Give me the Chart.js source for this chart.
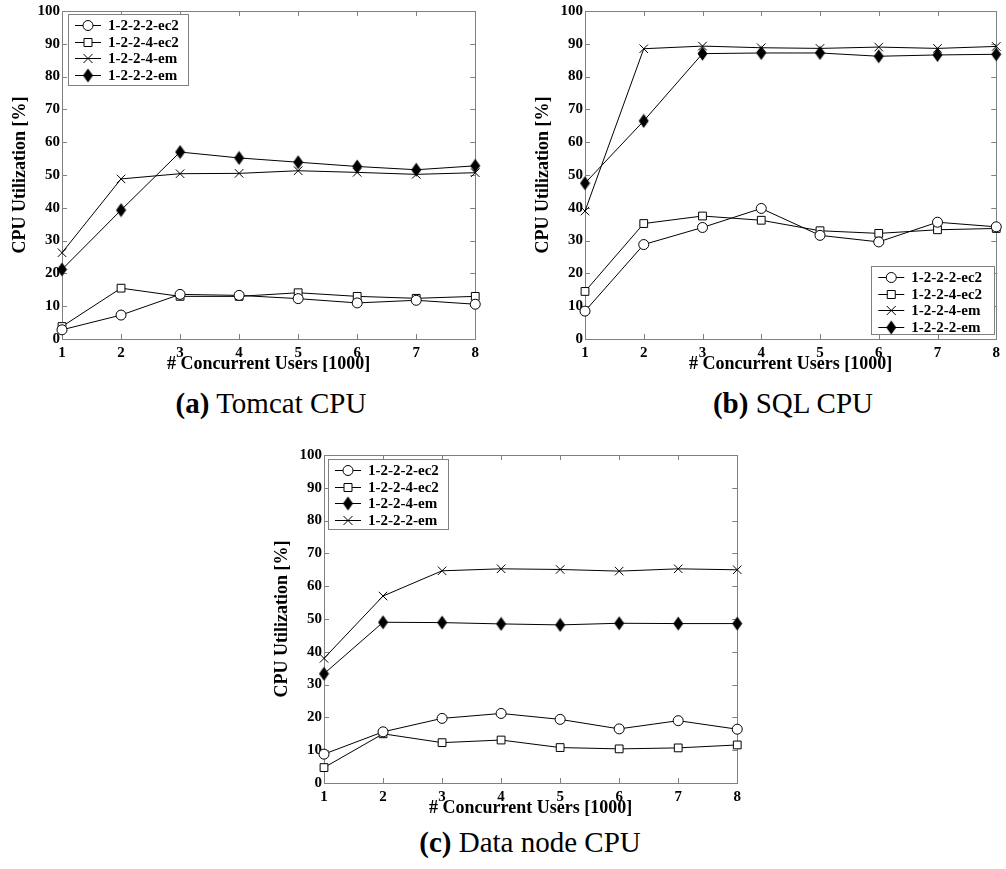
<!DOCTYPE html>
<html>
<head>
<meta charset="utf-8">
<script src="https://cdn.jsdelivr.net/npm/chart.js@4.4.0/dist/chart.umd.min.js"></script>
<style>
    html, body { margin: 0; background: #fff; }
    body { width: 1006px; height: 869px; overflow: hidden; position: relative; font-family: "Liberation Serif", "Times New Roman", serif; }
    canvas { position: absolute; }
    .cap { position: absolute; width: 400px; font-size: 29px; line-height: 1; text-align: center; color: #000; white-space: nowrap; }
</style>
</head>
<body>
<canvas id="tomcatChart" width="484" height="375" style="left:0;top:0"></canvas>
<canvas id="sqlChart" width="482" height="375" style="left:523px;top:0"></canvas>
<canvas id="dataChart" width="484" height="375" style="left:262px;top:444px"></canvas>
<div class="cap" style="left:71px;top:389px"><b>(a)</b> Tomcat CPU</div>
<div class="cap" style="left:593px;top:389px"><b>(b)</b> SQL CPU</div>
<div class="cap" style="left:330px;top:828px"><b>(c)</b> Data node CPU</div>
<script>
// x axis: concurrent users in thousands
const users = ['1', '2', '3', '4', '5', '6', '7', '8'];

// (a) Tomcat CPU
const tomcat2222ec2 = [2.8, 7.3, 13.6, 13.3, 12.3, 11.0, 11.8, 10.6];
const tomcat1224ec2 = [3.8, 15.5, 13.0, 13.0, 14.1, 13.0, 12.4, 13.0];
const tomcat1224em = [26.3, 48.8, 50.4, 50.5, 51.3, 50.8, 50.2, 50.7];
const tomcat1222em = [21.2, 39.3, 57.0, 55.2, 53.9, 52.6, 51.6, 52.8];

// (b) SQL CPU
const sql2222ec2 = [8.5, 28.8, 34.0, 39.8, 31.6, 29.6, 35.6, 34.2];
const sql1224ec2 = [14.5, 35.2, 37.5, 36.2, 33.0, 32.2, 33.3, 33.7];
const sql1224em = [39.0, 88.5, 89.3, 88.8, 88.6, 89.0, 88.6, 89.2];
const sql1222em = [47.5, 66.5, 87.0, 87.2, 87.2, 86.2, 86.6, 86.8];

// (c) Data node CPU
const data2222ec2 = [8.8, 15.6, 19.7, 21.2, 19.4, 16.5, 19.0, 16.4];
const data1224ec2 = [4.7, 15.0, 12.3, 13.1, 10.8, 10.4, 10.7, 11.6];
const data1224em = [33.3, 49.0, 48.9, 48.5, 48.2, 48.7, 48.6, 48.6];
const data1222em = [38.0, 57.0, 64.7, 65.3, 65.1, 64.6, 65.3, 65.0];

const yMin = 0;
const yMax = 100;
const yStep = 10;

const FONT = '"Liberation Serif", "Times New Roman", serif';
const FRAME = '#808080';

// filled diamond marker (a bit taller than wide, like the original)
const diamond = document.createElement('canvas');
diamond.width = 11;
diamond.height = 15;
(function() {
    const dc = diamond.getContext('2d');
    dc.fillStyle = '#000';
    dc.beginPath();
    dc.moveTo(5.5, 0.5);
    dc.lineTo(10.5, 7.5);
    dc.lineTo(5.5, 14.5);
    dc.lineTo(0.5, 7.5);
    dc.closePath();
    dc.fill();
})();

function series(label, data, marker) {
    const ds = {
        label: label,
        data: data,
        borderColor: '#000',
        borderWidth: 1,
        pointBorderColor: '#000',
        pointBorderWidth: 1,
        pointBackgroundColor: '#fff',
        fill: false,
        tension: 0,
        clip: false,
        marker: marker
    };
    if (marker === 'circle') { ds.pointStyle = 'circle'; ds.pointRadius = 5; }
    if (marker === 'square') { ds.pointStyle = 'rect'; ds.pointRadius = 5.5; }
    if (marker === 'cross') { ds.pointStyle = 'crossRot'; ds.pointRadius = 6; }
    if (marker === 'diamond') { ds.pointStyle = diamond; ds.pointRadius = 6; }
    return ds;
}

function drawMarker(ctx, marker, x, y) {
    ctx.save();
    ctx.strokeStyle = '#000';
    ctx.lineWidth = 1;
    ctx.beginPath();
    if (marker === 'circle') {
        ctx.arc(x, y, 5, 0, Math.PI * 2);
        ctx.fillStyle = '#fff';
        ctx.fill();
        ctx.stroke();
    } else if (marker === 'square') {
        ctx.rect(x - 4, y - 4, 8, 8);
        ctx.fillStyle = '#fff';
        ctx.fill();
        ctx.stroke();
    } else if (marker === 'cross') {
        ctx.moveTo(x - 4.5, y - 4.5); ctx.lineTo(x + 4.5, y + 4.5);
        ctx.moveTo(x + 4.5, y - 4.5); ctx.lineTo(x - 4.5, y + 4.5);
        ctx.stroke();
    } else if (marker === 'diamond') {
        ctx.drawImage(diamond, x - diamond.width / 2, y - diamond.height / 2);
    }
    ctx.restore();
}

// box around the plot with inward ticks on all four sides
const framePlugin = {
    id: 'frame',
    beforeDatasetsDraw(chart) {
        const { ctx, chartArea: a } = chart;
        const xs = chart.scales.x;
        const ys = chart.scales.y;
        ctx.save();
        ctx.strokeStyle = FRAME;
        ctx.lineWidth = 1;
        ctx.strokeRect(Math.round(a.left) + 0.5, Math.round(a.top) + 0.5,
            Math.round(a.right - a.left), Math.round(a.bottom - a.top));
        ctx.beginPath();
        xs.ticks.forEach((t, i) => {
            const px = Math.round(xs.getPixelForTick(i)) + 0.5;
            ctx.moveTo(px, a.top); ctx.lineTo(px, a.top + 5);
            ctx.moveTo(px, a.bottom); ctx.lineTo(px, a.bottom - 5);
        });
        ys.ticks.forEach((t, i) => {
            const py = Math.round(ys.getPixelForTick(i)) + 0.5;
            ctx.moveTo(a.left, py); ctx.lineTo(a.left + 5, py);
            ctx.moveTo(a.right, py); ctx.lineTo(a.right - 5, py);
        });
        ctx.stroke();
        ctx.restore();
    }
};

// legend box inside the plot, line + marker + bold label
const boxLegendPlugin = {
    id: 'boxLegend',
    afterDraw(chart, args, opts) {
        const { ctx, chartArea: a } = chart;
        const w = opts.width;
        const h = opts.height;
        const left = opts.corner === 'br' ? a.right - opts.dx - w : a.left + opts.dx;
        const top = opts.corner === 'br' ? a.bottom - opts.dy - h : a.top + opts.dy;
        ctx.save();
        ctx.fillStyle = '#fff';
        ctx.fillRect(left, top, w, h);
        ctx.strokeStyle = FRAME;
        ctx.lineWidth = 1;
        ctx.strokeRect(Math.round(left) + 0.5, Math.round(top) + 0.5, w, h);
        ctx.font = 'bold 15px ' + FONT;
        ctx.textBaseline = 'middle';
        ctx.fillStyle = '#000';
        chart.data.datasets.forEach((ds, i) => {
            const y = Math.round(top + 11 + i * 16.5) + 0.5;
            ctx.strokeStyle = '#000';
            ctx.beginPath();
            ctx.moveTo(left + 7, y);
            ctx.lineTo(left + 33, y);
            ctx.stroke();
            drawMarker(ctx, ds.marker, left + 20, y);
            ctx.fillText(ds.label, left + 40, y + 1);
        });
        ctx.restore();
    }
};

function createCpuChart(id, datasets, legendOpts) {
    const canvas = document.getElementById(id);
    new Chart(canvas, {
        type: 'line',
        data: { labels: users, datasets: datasets },
        options: {
            responsive: false,
            animation: false,
            events: [],
            layout: { padding: { left: 0, top: 11, right: canvas.width - 480, bottom: 0 } },
            plugins: {
                legend: { display: false },
                tooltip: { enabled: false },
                boxLegend: legendOpts
            },
            scales: {
                x: {
                    type: 'category',
                    offset: false,
                    grid: { display: false, drawTicks: false },
                    border: { display: false },
                    ticks: { color: '#000', font: { family: FONT, size: 15, weight: 'bold' }, padding: 5, autoSkip: false, maxRotation: 0 },
                    title: { display: true, text: '# Concurrent Users [1000]', color: '#000', font: { family: FONT, size: 18, weight: 'bold' }, padding: 0 },
                    afterFit: (scale) => { scale.height = 36; }
                },
                y: {
                    min: yMin,
                    max: yMax,
                    grid: { display: false, drawTicks: false },
                    border: { display: false },
                    ticks: { stepSize: yStep, color: '#000', font: { family: FONT, size: 15, weight: 'bold' }, padding: 2 },
                    title: { display: true, text: 'CPU Utilization [%]', color: '#000', font: { family: FONT, size: 18, weight: 'bold' }, padding: { top: 10, bottom: 0 } },
                    afterFit: (scale) => { scale.width = 62; }
                }
            }
        },
        plugins: [framePlugin, boxLegendPlugin]
    });
}

createCpuChart('tomcatChart', [
    series('1-2-2-2-ec2', tomcat2222ec2, 'circle'),
    series('1-2-2-4-ec2', tomcat1224ec2, 'square'),
    series('1-2-2-4-em', tomcat1224em, 'cross'),
    series('1-2-2-2-em', tomcat1222em, 'diamond')
], { corner: 'tl', dx: 6, dy: 3, width: 120, height: 71 });

createCpuChart('sqlChart', [
    series('1-2-2-2-ec2', sql2222ec2, 'circle'),
    series('1-2-2-4-ec2', sql1224ec2, 'square'),
    series('1-2-2-4-em', sql1224em, 'cross'),
    series('1-2-2-2-em', sql1222em, 'diamond')
], { corner: 'br', dx: 2, dy: 5, width: 123, height: 68 });

createCpuChart('dataChart', [
    series('1-2-2-2-ec2', data2222ec2, 'circle'),
    series('1-2-2-4-ec2', data1224ec2, 'square'),
    series('1-2-2-4-em', data1224em, 'diamond'),
    series('1-2-2-2-em', data1222em, 'cross')
], { corner: 'tl', dx: 4, dy: 4, width: 120, height: 70 });
</script>
</body>
</html>
